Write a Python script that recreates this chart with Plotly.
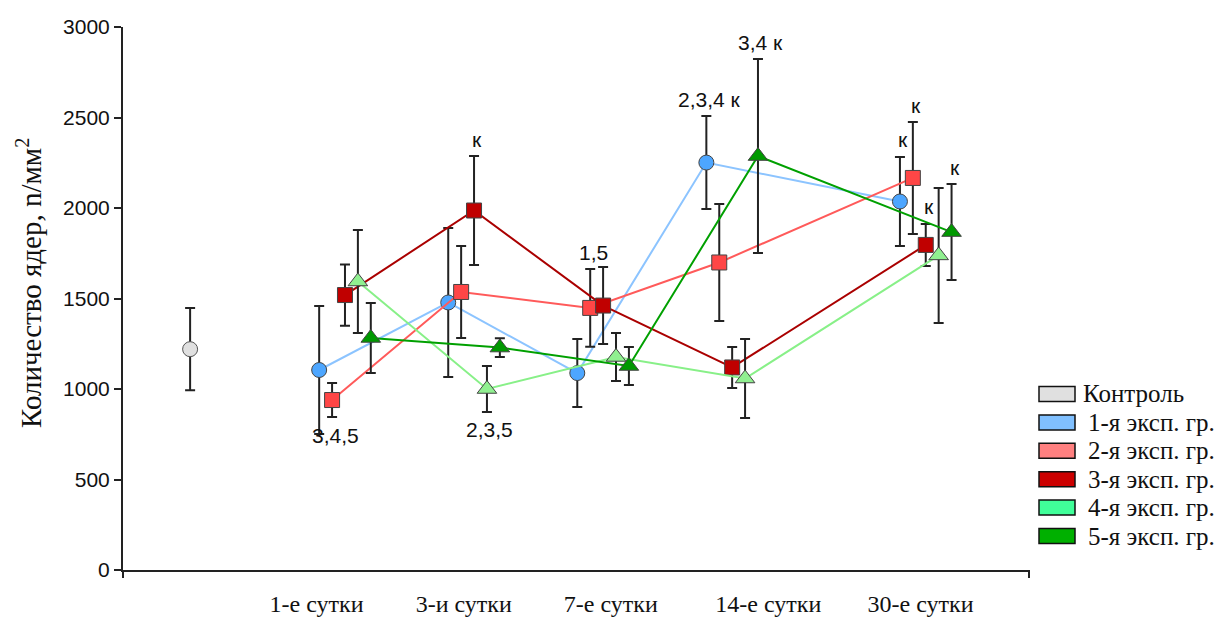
import plotly.graph_objects as go

# ---------------- data ----------------
days = ["1-е сутки", "3-и сутки", "7-е сутки", "14-е сутки", "30-е сутки"]
group_names = ["1-я эксп. гр.", "2-я эксп. гр.", "3-я эксп. гр.", "4-я эксп. гр.", "5-я эксп. гр."]
control_name = "Контроль"
y_title = "Количество ядер, n/мм<sup>2</sup>"

control_mean = 1220
control_err = 227

g1_mean = [1105, 1478, 1088, 2251, 2036]
g1_err = [354, 412, 188, 257, 246]
g2_mean = [939, 1536, 1448, 1699, 2166]
g2_err = [94, 254, 215, 323, 309]
g3_mean = [1519, 1986, 1461, 1119, 1796]
g3_err = [169, 301, 213, 113, 116]
g4_mean = [1594, 1000, 1177, 1058, 1738]
g4_err = [285, 127, 133, 218, 373]
g5_mean = [1282, 1229, 1127, 2287, 1867]
g5_err = [193, 52, 105, 536, 265]

# significance labels: (group index, day index, text, side)
sig_labels = [
    (1, 0, "3,4,5", "below"),
    (3, 1, "2,3,5", "below"),
    (2, 1, "к", "above"),
    (1, 2, "1,5", "above"),
    (0, 3, "2,3,4 к", "above"),
    (4, 3, "3,4 к", "above"),
    (1, 4, "к", "above"),
    (0, 4, "к", "above"),
    (2, 4, "к", "above"),
    (4, 4, "к", "above"),
]

# ---------------- layout helpers ----------------
control_x = 0.52
day_x = [1.72, 2.72, 3.72, 4.72, 6.22]
label_x = [1.5, 2.64, 3.78, 5.0, 6.18]
offsets = [-0.2, -0.1, 0.0, 0.1, 0.2]
x_max = 7.02

means = [g1_mean, g2_mean, g3_mean, g4_mean, g5_mean]
errs = [g1_err, g2_err, g3_err, g4_err, g5_err]
line_colors = ["#8cc4ff", "#ff5a5a", "#aa0000", "#88f088", "#00a000"]
marker_colors = ["#4da6ff", "#ff4646", "#c00000", "#90f090", "#009900"]
symbols = ["circle", "square", "square", "triangle-up", "triangle-up"]
sizes = [15, 15, 15, 17, 17]
legend_colors = ["#e0e0e0", "#80c0ff", "#ff8080", "#cc0000", "#40ff99", "#00b000"]

SANS = "Arial, 'Liberation Sans', sans-serif"
SERIF = "'Times New Roman', 'Liberation Serif', serif"

W, H = 1222, 618
L, R, T, B = 123, 193, 27, 48
PW, PH = W - L - R, H - T - B


def px_x(px):
    return (px - L) / PW


def px_y(py):
    return (H - B - py) / PH


fig = go.Figure()

# control
fig.add_trace(go.Scatter(
    x=[control_x], y=[control_mean], mode="markers",
    marker=dict(symbol="circle", size=15, color="#e0e0e0",
                line=dict(color="#555555", width=1)),
    error_y=dict(type="data", array=[control_err], color="#222222",
                 thickness=2, width=5),
    showlegend=False, cliponaxis=False,
))

for gi in range(5):
    xs = [dx + offsets[gi] for dx in day_x]
    fig.add_trace(go.Scatter(
        x=xs, y=means[gi], mode="lines+markers",
        line=dict(color=line_colors[gi], width=2),
        marker=dict(symbol=symbols[gi], size=sizes[gi], color=marker_colors[gi],
                    line=dict(color="#444444", width=1)),
        error_y=dict(type="data", array=errs[gi], color="#222222",
                     thickness=2, width=5),
        showlegend=False, cliponaxis=False,
    ))

annotations = []
for gi, di, text, side in sig_labels:
    x = day_x[di] + offsets[gi]
    if side == "above":
        y = means[gi][di] + errs[gi][di]
        ysh = 17
    else:
        y = means[gi][di] - errs[gi][di]
        ysh = -18
    annotations.append(dict(
        x=x, y=y, xref="x", yref="y", text=text, showarrow=False,
        xanchor="center", yanchor="middle", xshift=3, yshift=ysh,
        font=dict(family=SANS, size=21, color="#111111"),
    ))

# y-axis title (as rotated text)
annotations.append(dict(
    x=px_x(29), y=px_y(283), xref="paper", yref="paper", text=y_title,
    showarrow=False, textangle=-90, xanchor="center", yanchor="middle",
    font=dict(family=SERIF, size=29, color="#111111"),
))

shapes = []
# end ticks of the x axis
for xp in (0, 1):
    shapes.append(dict(type="line", xref="paper", yref="paper",
                       x0=xp, x1=xp, y0=0, y1=-8 / PH,
                       line=dict(color="#222222", width=2)))

# legend (drawn)
legend_names = [control_name] + group_names
for i, (name, col) in enumerate(zip(legend_names, legend_colors)):
    cy = 394 + 28.4 * i
    shapes.append(dict(type="rect", xref="paper", yref="paper",
                       x0=px_x(1039), x1=px_x(1075),
                       y0=px_y(cy + 7.5), y1=px_y(cy - 7.5),
                       fillcolor=col, line=dict(color="#111111", width=1.5)))
    annotations.append(dict(
        x=px_x(1081 if i == 0 else 1086), y=px_y(cy), xref="paper", yref="paper",
        text=name, showarrow=False, xanchor="left", yanchor="middle",
        font=dict(family=SERIF, size=25, color="#111111"),
    ))

fig.update_layout(
    width=W, height=H, autosize=False,
    margin=dict(l=L, r=R, t=T, b=B, pad=0),
    paper_bgcolor="white", plot_bgcolor="white",
    showlegend=False,
    annotations=annotations, shapes=shapes,
    xaxis=dict(
        range=[0, x_max], showgrid=False, zeroline=False, automargin=False,
        showline=True, linecolor="#222222", linewidth=2,
        tickmode="array", tickvals=label_x, ticktext=days, ticks="",
        tickfont=dict(family=SERIF, size=24, color="#111111"),
        ticklabelstandoff=11,
    ),
    yaxis=dict(
        range=[0, 3000], showgrid=False, zeroline=False, automargin=False,
        showline=True, linecolor="#222222", linewidth=2,
        tickmode="linear", tick0=0, dtick=500, ticks="outside",
        ticklen=7, tickwidth=2, tickcolor="#222222",
        tickfont=dict(family=SANS, size=21, color="#111111"),
    ),
)

fig.write_html("out.html")
